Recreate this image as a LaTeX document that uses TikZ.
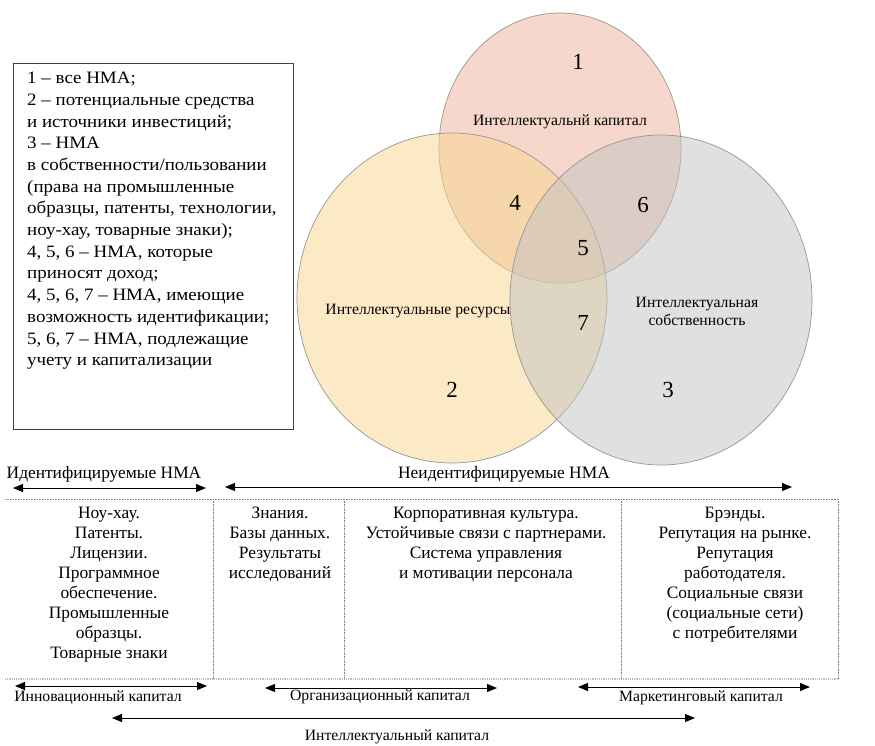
\documentclass[tikz,border=0pt]{standalone}
\usepackage{fontspec}
\setmainfont{Liberation Serif}
\newfontfamily\legfont{Liberation Serif}[FakeStretch=1.09]
\usetikzlibrary{arrows.meta}
\definecolor{pinkc}{RGB}{240,176,152}
\definecolor{yelc}{RGB}{250,212,140}
\definecolor{greyc}{RGB}{193,193,193}
\definecolor{edgec}{RGB}{150,150,150}
\begin{document}
\begin{tikzpicture}[x=1pt,y=-1pt,
  txt/.style={font=\fontsize{17.4}{20}\selectfont, align=center, inner sep=0pt},
  ctxt/.style={font=\fontsize{15.7}{18}\selectfont, align=center, inner sep=0pt},
  num/.style={font=\fontsize{23}{26}\selectfont, inner sep=0pt},
  venn/.style={draw=edgec, line width=0.7pt, fill opacity=0.5},
  dbl/.style={{Triangle[length=10pt,width=8pt]}-{Triangle[length=10pt,width=8pt]}, line width=1pt},
  grid/.style={densely dotted, draw=gray, line width=0.6pt}]
\useasboundingbox (0,0) rectangle (875,746);
% Venn circles
\path[venn, fill=pinkc] (560,148) ellipse [x radius=121, y radius=135];
\path[venn, fill=yelc] (452,298) ellipse [x radius=155, y radius=165];
\path[venn, fill=greyc] (661,300) ellipse [x radius=151, y radius=165];
% numbers
\node[num] (n1) at (578,62) {1};
\node[num] (n2) at (452,390) {2};
\node[num] (n3) at (668,390) {3};
\node[num] (n4) at (515,203) {4};
\node[num] (n5) at (583,248) {5};
\node[num] (n6) at (643,205) {6};
\node[num] (n7) at (583,323) {7};
% circle labels
\node[ctxt] (lk) at (560,122) {Интеллектуальнй капитал};
\node[ctxt] (lr) at (418,311) {Интеллектуальные ресурсы};
\node[ctxt] (ls) at (697,311) {Интеллектуальная\\собственность};
% legend
\node[draw=black!75, line width=0.8pt, minimum width=280pt, minimum height=366pt, anchor=north west, inner sep=0pt] (legbox) at (13,63) {};
\node[txt, font=\legfont\fontsize{17.4}{21.7}\selectfont, align=left, anchor=north west] (legtext) at (27,72) {1 – все НМА;\\
2 – потенциальные средства\\
и источники инвестиций;\\
3 – НМА\\
в собственности/пользовании\\
(права на промышленные\\
образцы, патенты, технологии,\\
ноу-хау, товарные знаки);\\
4, 5, 6 – НМА, которые\\
приносят доход;\\
4, 5, 6, 7 – НМА, имеющие\\
возможность идентификации;\\
5, 6, 7 – НМА, подлежащие\\
учету и капитализации};
% top arrows
\node[txt] (tid) at (104,474) {Идентифицируемые НМА};
\node[txt] (tnid) at (504,474) {Неидентифицируемые НМА};
\coordinate (ida) at (13,488);
\coordinate (idb) at (206,488);
\coordinate (nia) at (225,487);
\coordinate (nib) at (792,487);
\draw[dbl] (ida) -- (idb);
\draw[dbl] (nia) -- (nib);
% table grid
\coordinate (gtl) at (5,499);
\coordinate (gtr) at (838,499);
\coordinate (gbl) at (5,679);
\coordinate (gbr) at (838,679);
\draw[grid] (gtl) -- (gtr);
\draw[grid, draw=gray!50, line width=1.2pt] (gbl) -- (gbr);
\foreach \xx in {213,344,621,838} {\draw[grid] (\xx,499) -- (\xx,679);}
% columns
\node[txt, anchor=north] (c1) at (109,507) {Ноу-хау.\\Патенты.\\Лицензии.\\Программное\\обеспечение.\\Промышленные\\образцы.\\Товарные знаки};
\node[txt, anchor=north] (c2) at (280,507) {Знания.\\Базы данных.\\Результаты\\исследований};
\node[txt, anchor=north] (c3) at (486,507) {Корпоративная культура.\\Устойчивые связи с партнерами.\\Система управления\\и мотивации персонала};
\node[txt, anchor=north] (c4) at (735,507) {Брэнды.\\Репутация на рынке.\\Репутация\\работодателя.\\Социальные связи\\(социальные сети)\\с потребителями};
% bottom arrows
\coordinate (ia) at (15,686);
\coordinate (ib) at (207,686);
\coordinate (oa) at (265,688);
\coordinate (ob) at (497,688);
\coordinate (ma) at (578,687);
\coordinate (mb) at (810,687);
\coordinate (ka) at (112,718);
\coordinate (kb) at (695,718);
\draw[dbl] (ia) -- (ib);
\draw[dbl] (oa) -- (ob);
\draw[dbl] (ma) -- (mb);
\draw[dbl] (ka) -- (kb);
\node[ctxt] (li) at (98,698) {Инновационный капитал};
\node[ctxt] (lo) at (380,697) {Организационный капитал};
\node[ctxt] (lm) at (701,698) {Маркетинговый капитал};
\node[ctxt] (lic) at (397,737) {Интеллектуальный капитал};
\end{tikzpicture}
\end{document}
